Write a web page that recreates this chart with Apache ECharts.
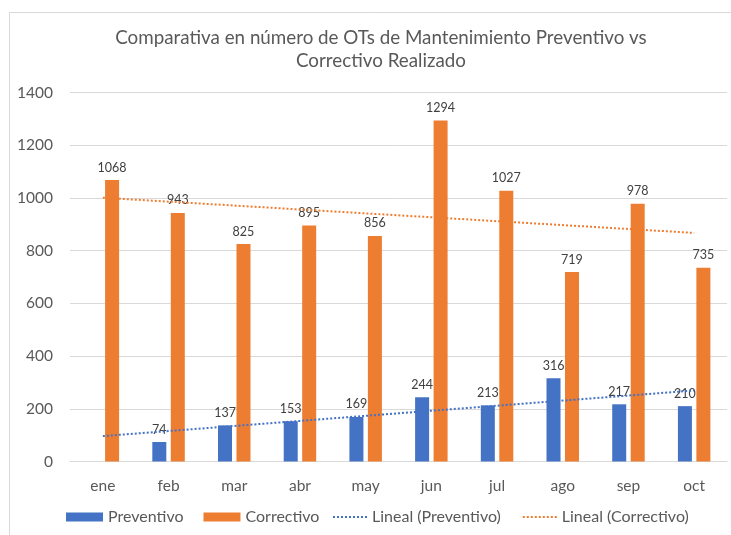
<!DOCTYPE html>
<html>
<head>
<meta charset="utf-8">
<script src="https://cdn.jsdelivr.net/npm/echarts@6/dist/echarts.min.js"></script>
<style>
  html, body { margin: 0; padding: 0; background: #fff; }
  #chart { width: 731px; height: 535px; }
</style>
</head>
<body>
<div id="chart"></div>
<script>
// Monthly work orders (OTs): preventive vs corrective maintenance
const months = ['ene', 'feb', 'mar', 'abr', 'may', 'jun', 'jul', 'ago', 'sep', 'oct'];
const preventivo = [null, 74, 137, 153, 169, 244, 213, 316, 217, 210];
const correctivo = [1068, 943, 825, 895, 856, 1294, 1027, 719, 978, 735];
const yTicks = [0, 200, 400, 600, 800, 1000, 1200, 1400];

// Least-squares linear trend over the months that have data, spanning all months
function linearTrend(values) {
  const pts = [];
  values.forEach((v, i) => { if (v !== null && v !== undefined) pts.push([i + 1, v]); });
  const n = pts.length;
  const mx = pts.reduce((s, p) => s + p[0], 0) / n;
  const my = pts.reduce((s, p) => s + p[1], 0) / n;
  let sxy = 0, sxx = 0;
  pts.forEach(p => { sxy += (p[0] - mx) * (p[1] - my); sxx += (p[0] - mx) * (p[0] - mx); });
  const slope = sxy / sxx;
  const icpt = my - slope * mx;
  return values.map((_, i) => +(icpt + slope * (i + 1)).toFixed(2));
}

// Dotted-line legend glyph built from small squares
function dottedIcon(count) {
  let d = '';
  for (let i = 0; i < count; i++) d += 'M' + (i * 4) + ' 0h2v2h-2z';
  return 'path://' + d;
}

const BLUE = '#4472C4';
const ORANGE = '#ED7D31';
const TEXT = '#595959';
const FONT = 'Lato, "Open Sans", sans-serif';

const chart = echarts.init(document.getElementById('chart'), null, { renderer: 'canvas' });

const legendText = { fontFamily: FONT, fontSize: 16, color: TEXT };

chart.setOption({
  backgroundColor: '#fff',
  animation: false,
  textStyle: { fontFamily: FONT },
  graphic: [{
    type: 'rect',
    shape: { x: 9.5, y: 12.5, width: 740, height: 540 },
    style: { fill: 'none', stroke: '#d9d9d9', lineWidth: 1 },
    silent: true
  }],
  title: {
    text: 'Comparativa en número de OTs de Mantenimiento Preventivo vs\nCorrectivo Realizado',
    left: 376,
    top: 21,
    textAlign: 'center',
    textStyle: { fontFamily: FONT, fontSize: 18.8, fontWeight: 'normal', color: TEXT, lineHeight: 23 }
  },
  legend: [
    {
      left: 66,
      top: 509,
      padding: 0,
      itemGap: 20,
      itemWidth: 37,
      itemHeight: 9,
      textStyle: legendText,
      data: [
        { name: 'Preventivo', icon: 'rect' },
        { name: 'Correctivo', icon: 'rect' }
      ]
    },
    {
      left: 333,
      top: 509,
      padding: 0,
      itemGap: 22,
      itemWidth: 34,
      itemHeight: 2,
      textStyle: legendText,
      data: [
        { name: 'Lineal (Preventivo)', icon: dottedIcon(9), itemStyle: { color: BLUE } },
        { name: 'Lineal (Correctivo)', icon: dottedIcon(9), itemStyle: { color: ORANGE } }
      ]
    }
  ],
  grid: { left: 70, right: 4, top: 92.5, bottom: 73.5 },
  xAxis: {
    type: 'category',
    data: months,
    axisLine: { show: true, lineStyle: { color: '#d9d9d9', width: 1 } },
    axisTick: { show: false },
    axisLabel: { color: TEXT, fontSize: 15.5, fontFamily: FONT, margin: 16 }
  },
  yAxis: {
    type: 'value',
    min: yTicks[0],
    max: yTicks[yTicks.length - 1],
    interval: 200,
    axisLine: { show: false },
    axisTick: { show: false },
    splitLine: { lineStyle: { color: '#d9d9d9', width: 1 } },
    axisLabel: { color: TEXT, fontSize: 15.5, fontFamily: FONT, margin: 17, formatter: v => String(v) }
  },
  series: [
    {
      name: 'Preventivo',
      type: 'bar',
      data: preventivo,
      barWidth: 14,
      barGap: '32%',
      itemStyle: { color: BLUE },
      label: { show: true, position: 'top', distance: 6, color: '#404040', fontSize: 12.5, fontFamily: FONT },
      z: 2
    },
    {
      name: 'Correctivo',
      type: 'bar',
      data: correctivo,
      barWidth: 14,
      barGap: '32%',
      itemStyle: { color: ORANGE },
      label: { show: true, position: 'top', distance: 6, color: '#404040', fontSize: 12.5, fontFamily: FONT },
      z: 2
    },
    {
      name: 'Lineal (Preventivo)',
      type: 'line',
      data: linearTrend(preventivo),
      symbol: 'none',
      itemStyle: { color: BLUE },
      lineStyle: { color: BLUE, width: 2, type: [2, 2] },
      z: 3
    },
    {
      name: 'Lineal (Correctivo)',
      type: 'line',
      data: linearTrend(correctivo),
      symbol: 'none',
      itemStyle: { color: ORANGE },
      lineStyle: { color: ORANGE, width: 2, type: [2, 2] },
      z: 3
    }
  ]
});
</script>
</body>
</html>
